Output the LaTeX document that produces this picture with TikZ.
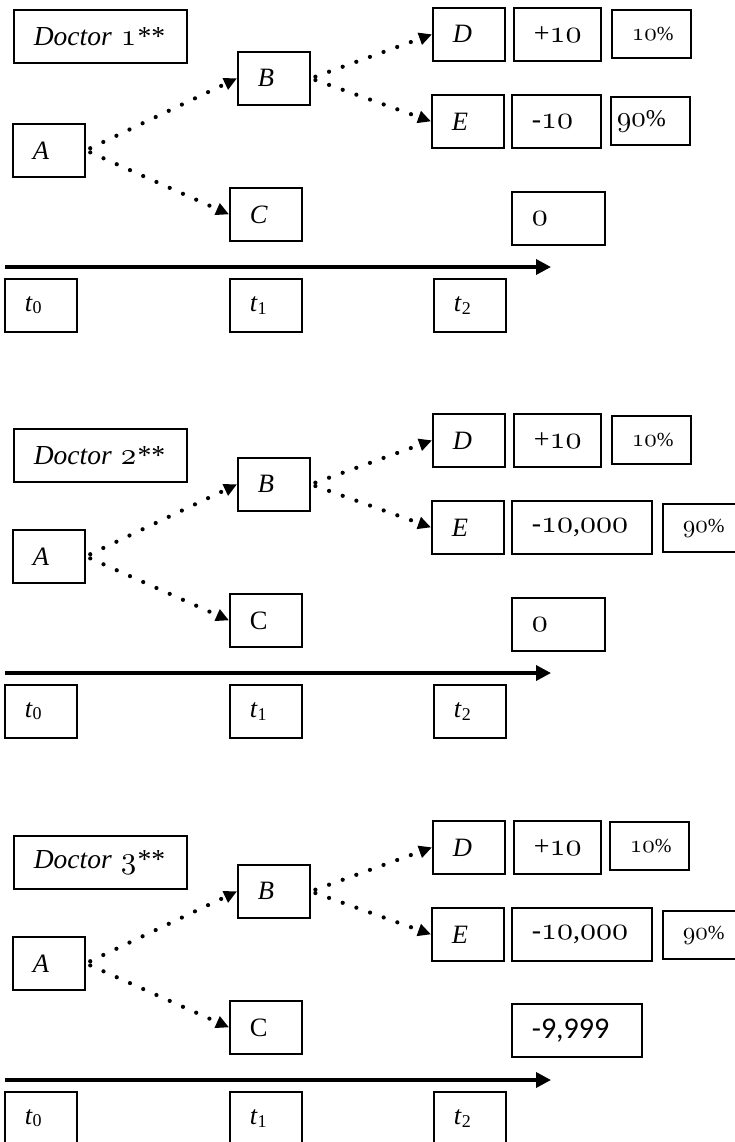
\documentclass[tikz,border=0pt]{standalone}
\usepackage{fontspec}
\setmainfont{Liberation Serif}
\newfontfamily\calibrifont{Carlito}
\usetikzlibrary{arrows.meta}
% old-style figures taken from a freely scaled math italic font
\DeclareFontFamily{OML}{osfig}{}
\DeclareFontShape{OML}{osfig}{m}{it}{<-> cmmi10}{}
\newcommand{\osf}[2][32]{{\fontsize{#1}{#1}\usefont{OML}{osfig}{m}{it}#2}}
\newcommand{\tlabel}[1]{\textit{t}\raisebox{-2.5pt}{\fontsize{18}{18}\selectfont #1}}

\begin{document}
\begin{tikzpicture}[x=1pt, y=-1pt,
    % Box styles
    box/.style={draw, line width=1.7pt, anchor=north west, minimum height=53pt,
        inner xsep=20pt, inner ysep=0pt, align=left},
    letter/.style={box, text width=32pt, font=\fontsize{26.5}{28}\selectfont},
    valbox/.style={box, text width=#1, font=\fontsize{28}{30}\selectfont},
    pct/.style={box, minimum height=48pt, text width=#1, font=\fontsize{20}{22}\selectfont},
    doctor/.style={box, text width=133pt, font=\fontsize{27.5}{29}\selectfont\itshape},
    % Connector styles
    branch/.style={line width=4.2pt, line cap=round, dash pattern=on 0pt off 14.5pt,
        shorten <=5pt, -{Triangle[length=13pt, width=12pt]}},
    timeline/.style={line width=3.5pt, -{Triangle[length=15pt, width=15pt]}},
]

\useasboundingbox (0,0) rectangle (734,1142);

% Doctor 1
\begin{scope}[name prefix=p1-]
    \node[doctor] (doc) at (13,9) {Doctor \osf[31]{1}**};
    \node[letter] (A) at (12,123) {\textit{A}};
    \node[letter] (B) at (237,51) {\textit{B}};
    \node[letter] (C) at (229,187) {\textit{C}};
    \node[letter] (D) at (432,7) {\textit{D}};
    \node[letter] (E) at (431,94) {\textit{E}};
    \node[valbox=47pt] (Dval) at (513,7) {+\osf{10}};
    \node[valbox=49pt] (Eval) at (511,94) {-\osf{10}};
    \node[valbox=53pt] (Cval) at (511,191) {\osf{0}};
    \node[pct=39pt] (Dpct) at (611,9) {\osf[25]{10}\%};
    \node[pct=67pt, inner xsep=6pt, font=\fontsize{24}{26}\selectfont] (Epct) at (610,96) {\osf[29]{90}\%};

    \draw[branch] (A.east) -- (B.west);
    \draw[branch] (A.east) -- (C.west);
    \draw[branch] (B.east) -- (D.west);
    \draw[branch] (B.east) -- (E.west);

    % time axis
    \coordinate (axis-start) at (5,267);
    \coordinate (axis-end) at (551,267);
    \draw[timeline] (axis-start) -- (axis-end);
    \node[letter] (t0) at (4,278) {\tlabel{0}};
    \node[letter] (t1) at (229,278) {\tlabel{1}};
    \node[letter] (t2) at (433,278) {\tlabel{2}};
\end{scope}

% Doctor 2
\begin{scope}[yshift=-406pt, name prefix=p2-]
    \node[doctor] (doc) at (13,22) {Doctor \osf[31]{2}**};
    \node[letter] (A) at (12,123) {\textit{A}};
    \node[letter] (B) at (237,51) {\textit{B}};
    \node[letter] (C) at (229,187) {C};
    \node[letter] (D) at (432,7) {\textit{D}};
    \node[letter] (E) at (431,94) {\textit{E}};
    \node[valbox=47pt] (Dval) at (513,7) {+\osf{10}};
    \node[valbox=100pt] (Eval) at (511,94) {-\osf{10},\osf{000}};
    \node[valbox=53pt] (Cval) at (511,191) {\osf{0}};
    \node[pct=39pt] (Dpct) at (611,9) {\osf[25]{10}\%};
    \node[pct=40pt] (Epct) at (662,97) {\osf[25]{90}\%};

    \draw[branch] (A.east) -- (B.west);
    \draw[branch] (A.east) -- (C.west);
    \draw[branch] (B.east) -- (D.west);
    \draw[branch] (B.east) -- (E.west);

    % time axis
    \coordinate (axis-start) at (5,267);
    \coordinate (axis-end) at (551,267);
    \draw[timeline] (axis-start) -- (axis-end);
    \node[letter] (t0) at (4,278) {\tlabel{0}};
    \node[letter] (t1) at (229,278) {\tlabel{1}};
    \node[letter] (t2) at (433,278) {\tlabel{2}};
\end{scope}

% Doctor 3
\begin{scope}[yshift=-813pt, name prefix=p3-]
    \node[doctor] (doc) at (13,22) {Doctor \osf[31]{3}**};
    \node[letter] (A) at (12,123) {\textit{A}};
    \node[letter] (B) at (237,51) {\textit{B}};
    \node[letter] (C) at (229,187) {C};
    \node[letter] (D) at (432,7) {\textit{D}};
    \node[letter] (E) at (431,94) {\textit{E}};
    \node[valbox=47pt] (Dval) at (513,7) {+\osf{10}};
    \node[valbox=100pt] (Eval) at (511,94) {-\osf{10},\osf{000}};
    \node[valbox=90pt, font=\calibrifont\fontsize{30}{32}\selectfont] (Cval) at (511,190) {-9,999};
    \node[pct=39pt] (Dpct) at (609,8) {\osf[25]{10}\%};
    \node[pct=40pt] (Epct) at (662,97) {\osf[25]{90}\%};

    \draw[branch] (A.east) -- (B.west);
    \draw[branch] (A.east) -- (C.west);
    \draw[branch] (B.east) -- (D.west);
    \draw[branch] (B.east) -- (E.west);

    % time axis
    \coordinate (axis-start) at (5,267);
    \coordinate (axis-end) at (551,267);
    \draw[timeline] (axis-start) -- (axis-end);
    \node[letter] (t0) at (4,278) {\tlabel{0}};
    \node[letter] (t1) at (229,278) {\tlabel{1}};
    \node[letter] (t2) at (433,278) {\tlabel{2}};
\end{scope}

\end{tikzpicture}
\end{document}
